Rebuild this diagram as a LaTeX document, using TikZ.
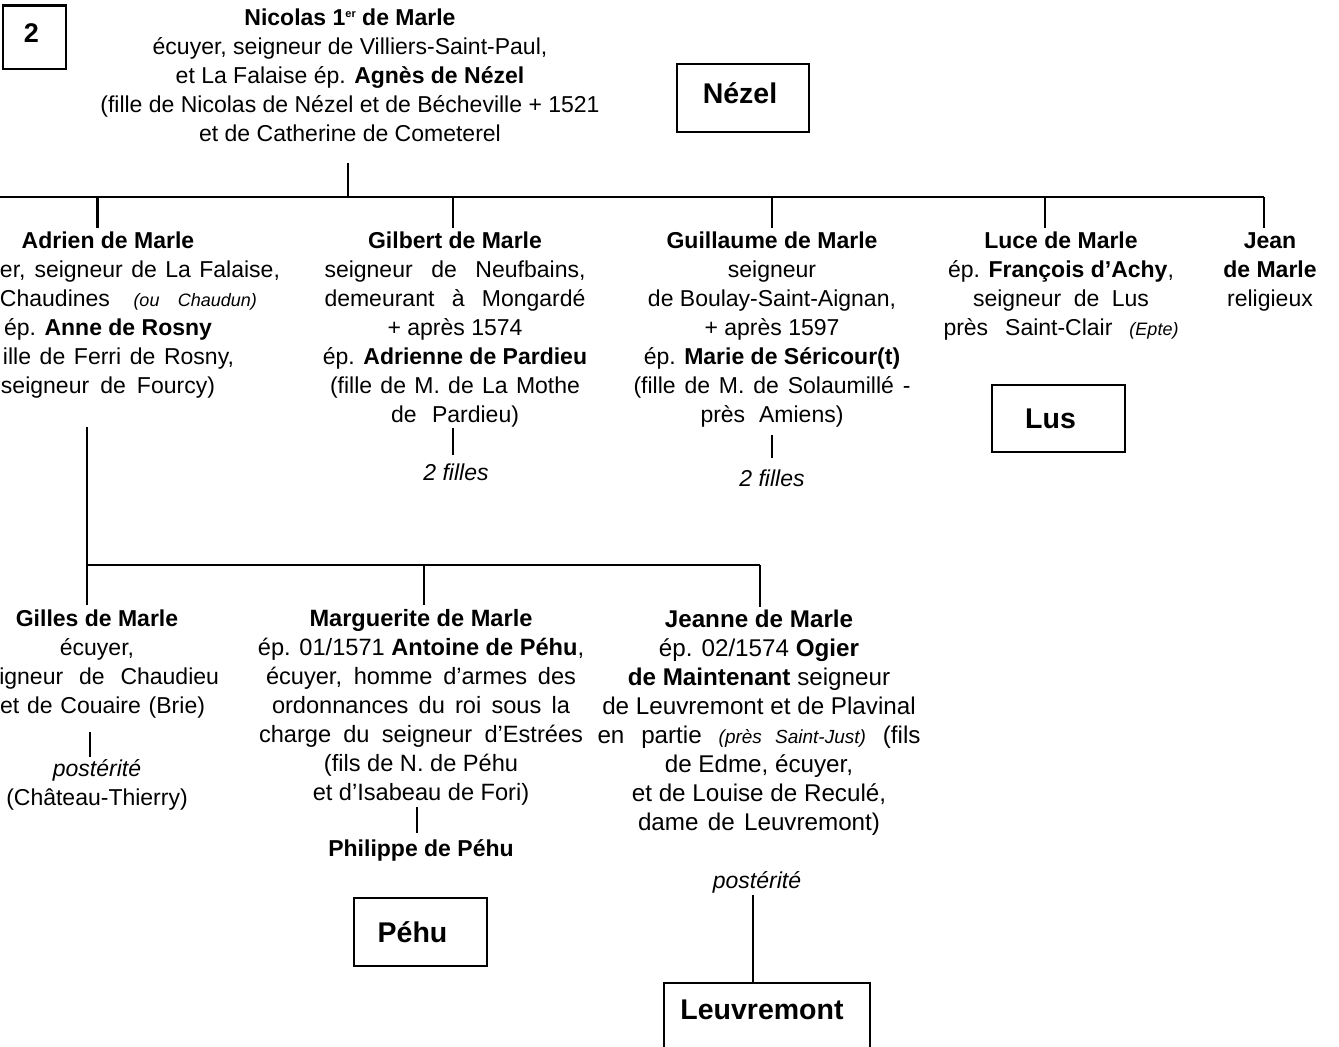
\documentclass[tikz,border=0pt]{standalone}
\usepackage{fontspec}
\setmainfont{Liberation Sans}
\newcommand\fsz{\fontsize{23}{29}\selectfont}
\newcommand\fszm{\fontsize{23.6}{29}\selectfont}
\newcommand\fszj{\fontsize{24.2}{29}\selectfont}
\newcommand\bxf{\fontsize{28.5}{30}\selectfont\bfseries}
\newcommand\smit[1]{{\fontsize{18}{20}\selectfont\itshape #1}}
\newcommand\smitj[1]{{\fontsize{19}{20}\selectfont\itshape #1}}
\newcommand\tstrut{\rule{0pt}{22pt}}
\newcommand\jst[2]{\makebox[#1pt][s]{#2}}
\tikzset{
  ln/.style={line width=2.4pt},
  pers/.style={align=center, inner sep=0pt, anchor=north, font=\fsz},
  gbox/.style={draw, line width=2.4pt, inner sep=0pt, font=\bxf, text height=20.5pt, text depth=0pt},
}
\begin{document}
\begin{tikzpicture}[x=1pt,y=-1pt]
\useasboundingbox (0,0) rectangle (1339,1047);
\fill[white] (0,0) rectangle (1339,1047);

% boxes
\node[gbox, font=\fontsize{27}{28}\selectfont\bfseries, text height=19.3pt, text depth=8.6pt,
      minimum width=63pt, minimum height=63.3pt] (b2) at (34.7,37.3) {2\hspace*{6.4pt}};
\node[gbox, text depth=10pt, minimum width=132pt, minimum height=68pt] (nezel) at (743,98) {Nézel\hspace*{6pt}};
\node[gbox, minimum width=133pt, minimum height=67pt] (lus) at (1058.5,418.5) {Lus\hspace*{16pt}};
\node[gbox, minimum width=133pt, minimum height=68pt] (pehu) at (420.5,932) {Péhu\hspace*{16pt}};
\node[gbox, anchor=north, text height=22pt, text depth=60pt, inner ysep=14pt,
      minimum width=206pt] (leuv) at (767,982) {Leuvremont\hspace*{10pt}};

% title
\node[pers] (title) at (350,3) {\tstrut\textbf{Nicolas 1\raisebox{8pt}{\fontsize{11}{11}\selectfont er} de Marle}\\
écuyer, seigneur de Villiers-Saint-Paul,\\
et La Falaise ép. \textbf{Agnès de Nézel}\\
(fille de Nicolas de Nézel et de Bécheville + 1521\\
et de Catherine de Cometerel};

% first generation
\node[pers] (adrien) at (108,226) {\tstrut\textbf{Adrien de Marle}\\
\jst{344}{\hspace*{64pt}er, seigneur de La Falaise,}\\
\jst{298}{\hspace*{41pt}Chaudines \smit{(ou Chaudun)}}\\
ép. \textbf{Anne de Rosny}\\
\jst{252}{\hspace*{21pt}ille de Ferri de Rosny,}\\
\jst{214}{seigneur de Fourcy)}};

\node[pers] (gilbert) at (455,226) {\tstrut\textbf{Gilbert de Marle}\\
\jst{261}{seigneur de Neufbains,}\\
\jst{261}{demeurant à Mongardé}\\
+ après 1574\\
ép. \textbf{Adrienne de Pardieu}\\
\jst{250}{(fille de M. de La Mothe}\\
\jst{128}{de Pardieu)}};
\node[pers] (gilf) at (456,458) {\tstrut\textit{2 filles}};

\node[pers] (guill) at (772,226) {\tstrut\textbf{Guillaume de Marle}\\
seigneur\\
de Boulay-Saint-Aignan,\\
+ après 1597\\
ép. \textbf{Marie de Séricour(t)}\\
\jst{277}{(fille de M. de Solaumillé -}\\
\jst{143}{près Amiens)}};
\node[pers] (guif) at (772,464) {\tstrut\textit{2 filles}};

\node[pers] (luce) at (1061,226) {\tstrut\textbf{Luce de Marle}\\
ép. \textbf{François d’Achy},\\
\jst{176}{seigneur de Lus}\\
\jst{235}{près Saint-Clair \smit{(Epte)}}};

\node[pers] (jean) at (1270,226) {\tstrut\textbf{Jean}\\
\textbf{de Marle}\\
religieux};

% second generation
\node[pers] (gilles) at (97,604) {\tstrut\textbf{Gilles de Marle}\\
écuyer,\\
\jst{244}{\phantom{se}igneur de Chaudieu}\\
\jst{216}{\hspace*{11pt}et de Couaire (Brie)}};
\node[pers] (gilp) at (97,754) {\tstrut\textit{postérité}\\
(Château-Thierry)};

\node[pers, font=\fszm] (marg) at (421,604) {\tstrut\textbf{Marguerite de Marle}\\
ép. 01/1571 \textbf{Antoine de Péhu},\\
\jst{310}{écuyer, homme d’armes des}\\
\jst{298}{ordonnances du roi sous la}\\
\jst{324}{charge du seigneur d’Estrées}\\
(fils de N. de Péhu\\
et d’Isabeau de Fori)};
\node[pers] (phil) at (421,834) {\tstrut\textbf{Philippe de Péhu}};

\node[pers, font=\fszj] (jeanne) at (759,605) {\tstrut\textbf{Jeanne de Marle}\\
ép. 02/1574 \textbf{Ogier}\\
\textbf{de Maintenant} seigneur\\
de Leuvremont et de Plavinal\\
\jst{323}{en partie \smitj{(près Saint-Just)} (fils}\\
de Edme, écuyer,\\
et de Louise de Reculé,\\
\jst{242}{dame de Leuvremont)}};
\node[pers] (jeap) at (757,866) {\tstrut\textit{postérité}};

% connector coordinates
\coordinate (tA) at (348,163);
\coordinate (tB) at (348,197);
\coordinate (busL) at (0,197);
\coordinate (busR) at (1264,197);
\coordinate (jA) at (97.5,197);
\coordinate (jG) at (453,197);
\coordinate (jU) at (772,197);
\coordinate (jL) at (1045,197);
\coordinate (aA) at (87,427);
\coordinate (bus2L) at (87,565);
\coordinate (bus2R) at (760,565);
\coordinate (jM) at (424,565);
\coordinate (gA) at (453,428);
\coordinate (uA) at (772,435);
\coordinate (sA) at (90,732);
\coordinate (sB) at (90,757);
\coordinate (mA) at (417,807);
\coordinate (mB) at (417,833);
\coordinate (eA) at (753,895);

% connectors
\draw[ln] (tA) -- (tB);
\draw[ln] (busL) -- (busR);
\draw[ln] (jA) -- ++(0,31);
\draw[ln] (jG) -- ++(0,31);
\draw[ln] (jU) -- ++(0,31);
\draw[ln] (jL) -- ++(0,31);
\draw[ln] (busR) -- ++(0,31);
\draw[ln] (gA) -- ++(0,27);
\draw[ln] (uA) -- ++(0,23);
\draw[ln] (aA) -- (bus2L);
\draw[ln] (bus2L) -- (bus2R);
\draw[ln] (bus2L) -- ++(0,40);
\draw[ln] (jM) -- ++(0,40);
\draw[ln] (bus2R) -- ++(0,42);
\draw[ln] (sA) -- (sB);
\draw[ln] (mA) -- (mB);
\draw[ln] (eA) -- (eA |- leuv.north);
\end{tikzpicture}
\end{document}
